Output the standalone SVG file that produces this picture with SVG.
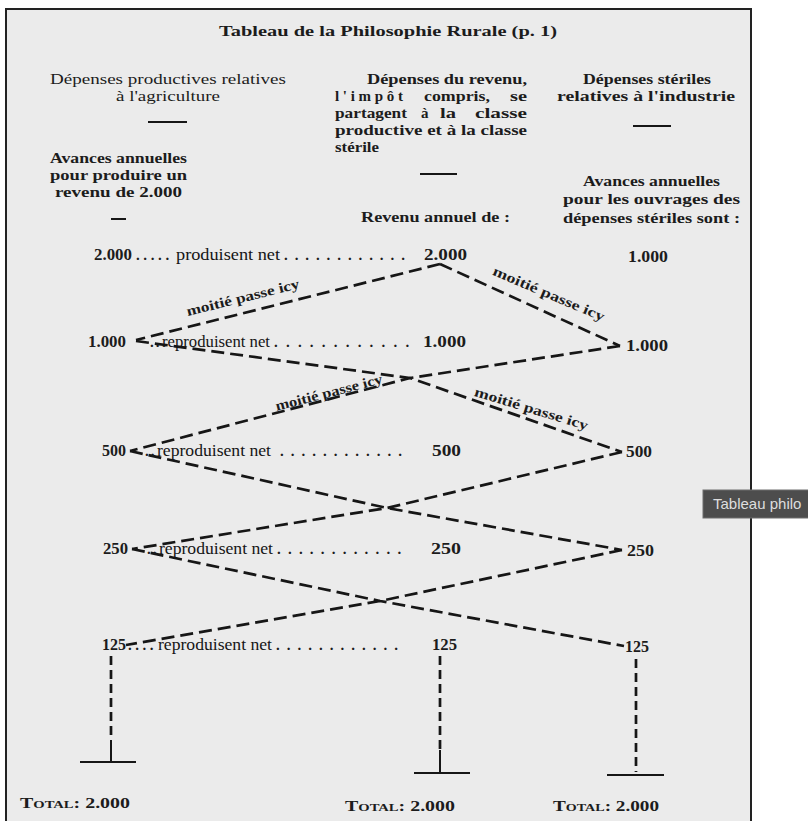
<svg xmlns="http://www.w3.org/2000/svg" width="808" height="821" viewBox="0 0 808 821">
<style>
.t{font-family:"Liberation Serif","DejaVu Serif",serif;fill:#1c1c1c;font-size:15px}
.b{font-weight:bold}
.h{font-size:15.5px}
.n{font-family:"Liberation Serif","DejaVu Serif",serif;fill:#1c1c1c;font-size:16px;font-weight:bold}
.r{font-family:"Liberation Serif","DejaVu Serif",serif;fill:#151515;font-size:16px}
.dots{font-family:"Liberation Serif","DejaVu Serif",serif;fill:#1c1c1c;font-size:15px;font-weight:bold}
.d{fill:none;stroke:#161616;stroke-width:2.7;stroke-dasharray:13 6;stroke-linejoin:miter}
.v{fill:none;stroke:#161616;stroke-width:2.7;stroke-dasharray:9 5}
.s{fill:none;stroke:#161616;stroke-width:2}
.lab{font-family:"Liberation Serif","DejaVu Serif",serif;fill:#1c1c1c;font-size:14px;font-weight:bold}
</style>
<rect x="0" y="0" width="808" height="821" fill="#ffffff"/>
<rect x="6" y="9" width="745" height="830" fill="#ebebeb" stroke="#222" stroke-width="2"/>

<g id="title">
<text class="t b" x="219" y="36" font-size="18" textLength="338" lengthAdjust="spacingAndGlyphs">Tableau de la Philosophie Rurale (p. 1)</text>
</g>

<g id="col-productive-header">
<text class="t h" x="50" y="84" textLength="236" lengthAdjust="spacingAndGlyphs">Dépenses productives relatives</text>
<text class="t h" x="116" y="101" textLength="104" lengthAdjust="spacingAndGlyphs">à l'agriculture</text>
<line class="s" x1="148" y1="122" x2="187" y2="122"/>
<text class="t b" x="50" y="163" textLength="137" lengthAdjust="spacingAndGlyphs">Avances annuelles</text>
<text class="t b" x="50" y="180" textLength="137" lengthAdjust="spacingAndGlyphs">pour produire un</text>
<text class="t b" x="55" y="197" textLength="127" lengthAdjust="spacingAndGlyphs">revenu de 2.000</text>
<line class="s" x1="111" y1="219" x2="126" y2="219"/>
</g>

<g id="col-revenu-header">
<text class="t b" x="367" y="84" textLength="160" lengthAdjust="spacingAndGlyphs">Dépenses du revenu,</text>
<text class="t b" x="335" y="101" textLength="68" lengthAdjust="spacing">l'impôt</text>
<text class="t b" x="424" y="101" textLength="66" lengthAdjust="spacingAndGlyphs">compris,</text>
<text class="t b" x="510" y="101" textLength="17" lengthAdjust="spacingAndGlyphs">se</text>
<text class="t b" x="335" y="118" textLength="72" lengthAdjust="spacingAndGlyphs">partagent</text>
<text class="t b" x="421" y="118">à</text>
<text class="t b" x="440" y="118" textLength="16" lengthAdjust="spacingAndGlyphs">la</text>
<text class="t b" x="475" y="118" textLength="52" lengthAdjust="spacingAndGlyphs">classe</text>
<text class="t b" x="335" y="135" textLength="192" lengthAdjust="spacingAndGlyphs">productive et à la classe</text>
<text class="t b" x="335" y="152" textLength="44" lengthAdjust="spacingAndGlyphs">stérile</text>
<line class="s" x1="420" y1="174" x2="457" y2="174"/>
<text class="t b" x="361" y="222" textLength="149" lengthAdjust="spacingAndGlyphs">Revenu annuel de :</text>
</g>

<g id="col-sterile-header">
<text class="t b" x="583" y="84" textLength="128" lengthAdjust="spacingAndGlyphs">Dépenses stériles</text>
<text class="t b" x="557" y="101" textLength="178" lengthAdjust="spacingAndGlyphs">relatives à l'industrie</text>
<line class="s" x1="633" y1="126" x2="671" y2="126"/>
<text class="t b" x="583" y="186" textLength="137" lengthAdjust="spacingAndGlyphs">Avances annuelles</text>
<text class="t b" x="563" y="204" textLength="177" lengthAdjust="spacingAndGlyphs">pour les ouvrages des</text>
<text class="t b" x="563" y="223" textLength="177" lengthAdjust="spacingAndGlyphs">dépenses stériles sont :</text>
</g>

<g id="connectors">
<polyline class="d" points="440,264 136,340"/>
<polyline class="d" points="440,264 620,346"/>
<polyline class="d" points="136,341 410,378 622,452"/>
<polyline class="d" points="620,346 410,378 130,451"/>
<polyline class="d" points="130,451 387,508 622,550"/>
<polyline class="d" points="622,452 387,508 132,549"/>
<polyline class="d" points="132,549 380,601 624,646"/>
<polyline class="d" points="622,550 380,601 126,645"/>
<line class="v" x1="111" y1="656" x2="111" y2="740"/>
<line class="s" x1="111" y1="740" x2="111" y2="762"/>
<line class="s" x1="80" y1="762" x2="136" y2="762"/>
<line class="v" x1="440" y1="656" x2="440" y2="750"/>
<line class="s" x1="440" y1="750" x2="440" y2="773" stroke-width="1.5"/>
<line class="s" x1="414" y1="773" x2="470" y2="773"/>
<line class="v" x1="636" y1="659" x2="636" y2="772"/>
<line class="s" x1="607" y1="775" x2="664" y2="775"/>
</g>

<g id="labels">
<text class="lab" transform="translate(244,302) rotate(-14)" text-anchor="middle" textLength="116" lengthAdjust="spacingAndGlyphs">moitié passe icy</text>
<text class="lab" transform="translate(547,298) rotate(23)" text-anchor="middle" textLength="120" lengthAdjust="spacingAndGlyphs">moitié passe icy</text>
<text class="lab" transform="translate(330,397) rotate(-14.6)" text-anchor="middle" textLength="110" lengthAdjust="spacingAndGlyphs">moitié passe icy</text>
<text class="lab" transform="translate(530,413) rotate(17)" text-anchor="middle" textLength="118" lengthAdjust="spacingAndGlyphs">moitié passe icy</text>
</g>

<g id="row-2000">
<text class="n" x="94" y="260" textLength="38" lengthAdjust="spacingAndGlyphs">2.000</text>
<text class="dots" x="136" y="260" letter-spacing="3.6">.....</text>
<text class="r" x="176" y="260" textLength="104" lengthAdjust="spacingAndGlyphs">produisent net</text>
<text class="dots" x="284" y="260" letter-spacing="6.9">............</text>
<text class="n" x="424" y="260" textLength="43" lengthAdjust="spacingAndGlyphs">2.000</text>
<text class="n" x="628" y="262" textLength="40" lengthAdjust="spacingAndGlyphs">1.000</text>
</g>

<g id="row-1000">
<text class="n" x="88" y="347" textLength="38" lengthAdjust="spacingAndGlyphs">1.000</text>
<text class="dots" x="150" y="347" letter-spacing="2">..</text>
<text class="r" x="162" y="347" textLength="108" lengthAdjust="spacingAndGlyphs">reproduisent net</text>
<text class="dots" x="274" y="347" letter-spacing="8.2">............</text>
<text class="n" x="423" y="347" textLength="43" lengthAdjust="spacingAndGlyphs">1.000</text>
<text class="n" x="626" y="351" textLength="42" lengthAdjust="spacingAndGlyphs">1.000</text>
</g>

<g id="row-500">
<text class="n" x="102" y="456" textLength="24" lengthAdjust="spacingAndGlyphs">500</text>
<text class="dots" x="145" y="456" letter-spacing="2">..</text>
<text class="r" x="157" y="456" textLength="114" lengthAdjust="spacingAndGlyphs">reproduisent net</text>
<text class="dots" x="280" y="456" letter-spacing="7">............</text>
<text class="n" x="432" y="456" textLength="29" lengthAdjust="spacingAndGlyphs">500</text>
<text class="n" x="626" y="457" textLength="26" lengthAdjust="spacingAndGlyphs">500</text>
</g>

<g id="row-250">
<text class="n" x="103" y="554" textLength="25" lengthAdjust="spacingAndGlyphs">250</text>
<text class="dots" x="147" y="554" letter-spacing="2">..</text>
<text class="r" x="159" y="554" textLength="114" lengthAdjust="spacingAndGlyphs">reproduisent net</text>
<text class="dots" x="277" y="554" letter-spacing="7.2">............</text>
<text class="n" x="431" y="554" textLength="30" lengthAdjust="spacingAndGlyphs">250</text>
<text class="n" x="627" y="556" textLength="27" lengthAdjust="spacingAndGlyphs">250</text>
</g>

<g id="row-125">
<text class="n" x="102" y="650" textLength="24" lengthAdjust="spacingAndGlyphs">125</text>
<text class="dots" x="128" y="650" letter-spacing="3.5">....</text>
<text class="r" x="158" y="650" textLength="114" lengthAdjust="spacingAndGlyphs">reproduisent net</text>
<text class="dots" x="276" y="650" letter-spacing="7">............</text>
<text class="n" x="432" y="650" textLength="25" lengthAdjust="spacingAndGlyphs">125</text>
<text class="n" x="625" y="652" textLength="24" lengthAdjust="spacingAndGlyphs">125</text>
</g>

<g id="totals">
<text class="t b" x="20" y="808" textLength="110" lengthAdjust="spacingAndGlyphs">T<tspan font-size="11">OTAL</tspan>: 2.000</text>
<text class="t b" x="345" y="811" textLength="110" lengthAdjust="spacingAndGlyphs">T<tspan font-size="11">OTAL</tspan>: 2.000</text>
<text class="t b" x="553" y="811" textLength="106" lengthAdjust="spacingAndGlyphs">T<tspan font-size="11">OTAL</tspan>: 2.000</text>
</g>

<g id="tooltip">
<rect x="703" y="490" width="110" height="28" fill="#4d4d4d" stroke="#6e6e6e" stroke-width="1"/>
<text x="713" y="509" font-family="Liberation Sans, Arial, sans-serif" font-size="15" fill="#dedede">Tableau philo</text>
</g>
</svg>
